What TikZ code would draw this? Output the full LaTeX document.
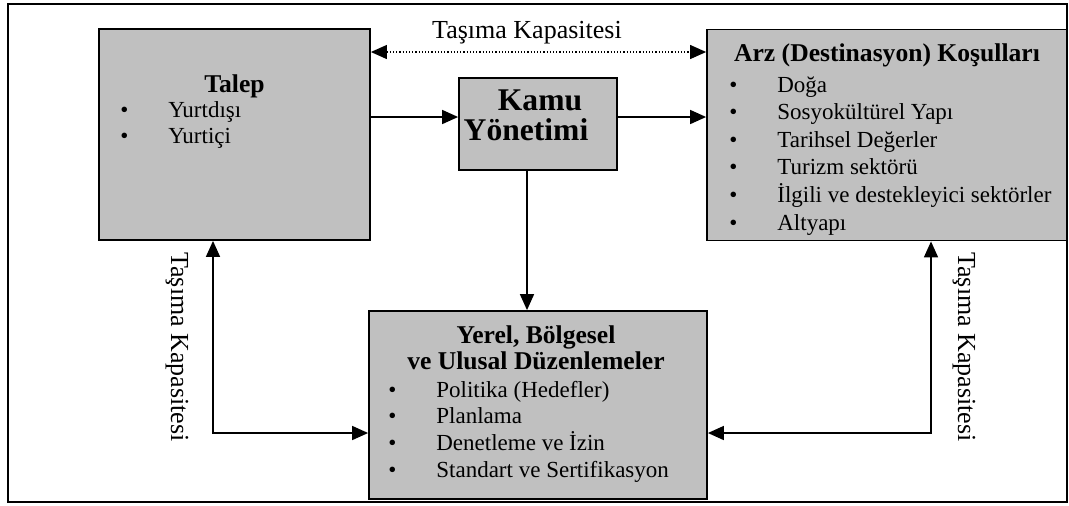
\documentclass[tikz,border=0pt]{standalone}
\usepackage{fontspec}
\setmainfont{Liberation Serif}
\usetikzlibrary{arrows.meta}
\definecolor{boxgray}{HTML}{C0C0C0}
\tikzstyle{box} = [draw=black, line width=0.9pt, fill=boxgray, inner sep=0pt]
\tikzstyle{txt} = [inner sep=0pt, font={\fontsize{11.5}{13.8}\selectfont}]
\tikzstyle{lbl} = [inner sep=0pt, font={\fontsize{13}{15}\selectfont}]
\tikzstyle{head} = [inner sep=0pt, font={\fontsize{12.8}{13}\selectfont\bfseries}]
\tikzstyle{bighead} = [inner sep=0pt, font={\fontsize{15.8}{16}\selectfont\bfseries}]
\tikzstyle{link} = [line width=0.8pt, -{Triangle[length=8pt,width=7pt]}]
\tikzstyle{both} = [line width=0.8pt, {Triangle[length=8pt,width=7pt]}-{Triangle[length=8pt,width=7pt]}]
\newcommand{\maddeler}[1]{\begin{tabular}[t]{@{}p{24pt}@{}l@{}}#1\end{tabular}}

\begin{document}
\begin{tikzpicture}[x=0.5pt,y=-0.5pt]
    \useasboundingbox (0,0) rectangle (1069,505);
    \draw[line width=1pt] (8,4) rectangle (1067,502);
    \node[box, minimum width=135.5pt, minimum height=105.5pt](talep) at (234.5,134.5){};
    \node[box, minimum width=79pt, minimum height=46pt](kamu) at (538,124){};
    \node[box, minimum width=180pt, minimum height=105.5pt](arz) at (887,135){};
    \node[box, minimum width=169pt, minimum height=94pt](yerel) at (538,405){};
    \node[head, anchor=base](talepbaslik) at (234.5,92){Talep};
    \node[txt, anchor=base west, font={\fontsize{11.5}{13.4}\selectfont}](talepliste) at (120,117){\maddeler{\textbullet & Yurtdışı\\ \textbullet & Yurtiçi}};
    \node[bighead, anchor=base](kamubaslik) at (540,110){Kamu};
    \node[bighead, anchor=base](kamualt) at (526,140){Yönetimi};
    \node[head, anchor=base](arzbaslik) at (887,61){Arz (Destinasyon) Koşulları};
    \node[txt, anchor=base west](arzliste) at (729,92){\maddeler{\textbullet & Doğa\\ \textbullet & Sosyokültürel Yapı\\
        \textbullet & Tarihsel Değerler\\ \textbullet & Turizm sektörü\\
        \textbullet & İlgili ve destekleyici sektörler\\ \textbullet & Altyapı}};
    \node[head, anchor=base](yerelbaslik) at (536,343){\begin{tabular}[t]{@{}c@{}}Yerel, Bölgesel\\ve Ulusal Düzenlemeler\end{tabular}};
    \node[txt, anchor=base west, font={\fontsize{11.5}{13.35}\selectfont}](yerelliste) at (388,397){\maddeler{\textbullet & Politika (Hedefler)\\ \textbullet & Planlama\\
        \textbullet & Denetleme ve İzin\\ \textbullet & Standart ve Sertifikasyon}};
    \node[lbl, anchor=base](ustetiket) at (527,38){Taşıma Kapasitesi};
    \node[lbl, rotate=-90](soletiket) at (177,347){Taşıma Kapasitesi};
    \node[lbl, rotate=-90](sagetiket) at (964,347){Taşıma Kapasitesi};
    \draw[both, line width=0.6pt, densely dotted](talep.east |- 0,52)--(arz.west |- 0,52);
    \draw[link](talep.east |- 0,117)--(kamu.west |- 0,117);
    \draw[link](kamu.east |- 0,117)--(arz.west |- 0,117);
    \draw[link](kamu.south -| 527,0)--(yerel.north -| 527,0);
    \draw[both](talep.south -| 213,0) |- (yerel.west |- 0,433);
    \draw[both](arz.south -| 931,0) |- (yerel.east |- 0,433);
  \end{tikzpicture}
\end{document}
